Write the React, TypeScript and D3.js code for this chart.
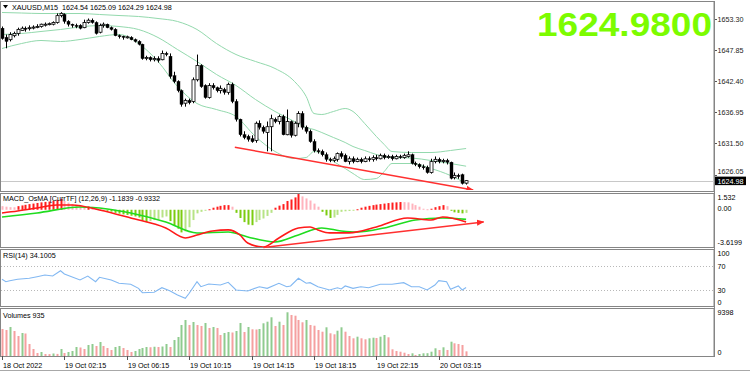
import * as d3 from 'd3'
import { useEffect, useRef } from 'react'

const W = 750
const H = 372

// XAUUSD M15, 120 bars: 18 Oct 22:15 .. 20 Oct 05:00
const barOpen = [
  1651.6, 1650.0, 1649.6, 1650.3, 1650.7, 1651.2, 1651.6, 1651.6, 1651.7, 1651.8,
  1651.9, 1652.2, 1652.3, 1652.3, 1652.6, 1653.8, 1654.0, 1652.8, 1652.3, 1652.1,
  1652.1, 1651.7, 1652.6, 1653.0, 1652.6, 1650.9, 1652.1, 1652.3, 1651.7, 1651.4,
  1650.3, 1650.2, 1650.0, 1650.0, 1649.6, 1649.3, 1648.8, 1646.3, 1646.5, 1646.1,
  1646.3, 1646.1, 1647.2, 1646.7, 1643.3, 1642.3, 1640.7, 1638.5, 1639.0, 1638.8,
  1642.6, 1645.1, 1641.6, 1639.5, 1641.6, 1641.2, 1640.7, 1640.9, 1640.4, 1641.8,
  1638.8, 1635.7, 1633.0, 1632.7, 1632.3, 1632.0, 1635.0, 1634.3, 1633.4, 1634.4,
  1635.7, 1635.3, 1636.2, 1633.0, 1635.3, 1632.9, 1635.0, 1636.7, 1634.3, 1633.6,
  1631.8, 1630.2, 1630.1, 1629.5, 1628.7, 1628.5, 1628.7, 1629.7, 1629.4, 1628.3,
  1628.8, 1628.3, 1628.7, 1628.3, 1628.8, 1628.7, 1629.0, 1628.8, 1629.4, 1629.0,
  1629.2, 1628.8, 1629.2, 1629.0, 1629.2, 1629.5, 1628.0, 1627.8, 1627.4, 1627.3,
  1626.4, 1628.3, 1628.7, 1628.3, 1628.5, 1628.2, 1625.5, 1625.9, 1626.0, 1624.54,
]
const barHigh = [
  1651.9, 1650.5, 1650.9, 1651.0, 1651.7, 1651.9, 1651.9, 1652.1, 1652.1, 1652.3,
  1652.4, 1652.6, 1652.6, 1652.8, 1654.2, 1654.4, 1654.2, 1653.0, 1652.4, 1652.4,
  1652.3, 1653.1, 1653.3, 1653.3, 1652.8, 1652.4, 1652.6, 1652.4, 1651.9, 1651.6,
  1650.5, 1650.3, 1650.3, 1650.2, 1649.8, 1649.5, 1648.9, 1646.8, 1646.7, 1646.7,
  1646.7, 1647.7, 1647.5, 1647.2, 1644.0, 1642.5, 1640.9, 1639.3, 1639.3, 1643.0,
  1647.0, 1645.3, 1641.8, 1642.0, 1642.0, 1641.4, 1641.6, 1641.2, 1642.1, 1642.1,
  1639.2, 1635.8, 1633.6, 1633.0, 1632.9, 1635.3, 1635.5, 1634.6, 1635.3, 1636.5,
  1636.0, 1636.5, 1636.5, 1637.4, 1635.5, 1635.3, 1637.1, 1637.1, 1634.6, 1633.9,
  1632.2, 1630.6, 1630.4, 1629.9, 1629.0, 1629.2, 1629.9, 1630.1, 1629.7, 1629.2,
  1629.2, 1629.0, 1629.0, 1629.2, 1629.2, 1629.4, 1629.5, 1629.7, 1629.7, 1629.5,
  1629.5, 1629.5, 1629.5, 1629.7, 1630.1, 1629.7, 1628.3, 1628.0, 1627.8, 1627.6,
  1628.8, 1629.2, 1629.0, 1628.8, 1628.8, 1628.3, 1626.4, 1626.2, 1626.2, 1625.09,
]
const barLow = [
  1649.6, 1648.1, 1649.3, 1650.0, 1650.3, 1651.2, 1651.0, 1651.2, 1651.4, 1651.6,
  1651.7, 1651.9, 1652.1, 1652.1, 1652.4, 1653.5, 1652.4, 1651.9, 1651.7, 1651.6,
  1651.4, 1651.6, 1652.4, 1652.4, 1650.5, 1650.7, 1651.7, 1651.6, 1651.2, 1650.2,
  1649.8, 1649.6, 1649.8, 1649.5, 1649.1, 1648.6, 1646.1, 1646.0, 1645.8, 1645.8,
  1645.6, 1646.0, 1646.7, 1642.8, 1642.0, 1640.4, 1637.9, 1637.9, 1638.3, 1638.5,
  1642.3, 1641.2, 1639.3, 1639.3, 1640.9, 1640.4, 1640.2, 1640.0, 1640.0, 1638.5,
  1635.3, 1632.7, 1632.2, 1631.8, 1631.6, 1631.6, 1633.9, 1633.2, 1630.1, 1630.1,
  1635.0, 1634.8, 1632.9, 1632.9, 1632.5, 1632.7, 1634.3, 1633.9, 1633.2, 1631.6,
  1629.9, 1629.7, 1629.2, 1628.3, 1628.2, 1628.2, 1628.3, 1628.8, 1628.2, 1627.8,
  1628.0, 1628.2, 1628.0, 1628.2, 1628.3, 1628.3, 1628.5, 1628.7, 1628.7, 1628.8,
  1628.5, 1628.7, 1628.8, 1628.8, 1629.0, 1627.8, 1627.5, 1627.1, 1626.9, 1626.2,
  1626.2, 1628.0, 1628.0, 1628.0, 1627.8, 1625.2, 1625.2, 1625.3, 1624.3, 1624.29,
]
const barClose = [
  1649.8, 1649.3, 1650.5, 1650.7, 1651.4, 1651.6, 1651.5, 1651.7, 1651.8, 1651.9,
  1652.3, 1652.3, 1652.4, 1652.6, 1653.8, 1654.2, 1652.8, 1652.3, 1652.1, 1651.9,
  1651.6, 1652.6, 1653.0, 1652.6, 1650.7, 1652.1, 1652.3, 1651.7, 1651.4, 1650.3,
  1650.2, 1650.0, 1650.1, 1649.6, 1649.3, 1648.8, 1646.3, 1646.5, 1646.1, 1646.3,
  1646.0, 1647.2, 1647.0, 1643.2, 1642.3, 1640.7, 1638.3, 1639.0, 1638.6, 1642.6,
  1645.1, 1641.4, 1639.5, 1641.6, 1641.2, 1640.7, 1641.1, 1640.4, 1641.8, 1638.8,
  1635.7, 1633.0, 1632.5, 1632.2, 1631.8, 1635.0, 1634.3, 1633.6, 1634.4, 1635.8,
  1635.3, 1636.2, 1633.0, 1635.3, 1632.9, 1635.0, 1636.7, 1634.3, 1633.6, 1631.8,
  1630.2, 1630.1, 1629.5, 1628.7, 1628.5, 1628.8, 1629.7, 1629.2, 1628.3, 1628.8,
  1628.3, 1628.7, 1628.3, 1628.8, 1628.7, 1629.0, 1628.8, 1629.4, 1629.0, 1629.2,
  1628.8, 1629.2, 1629.0, 1629.4, 1629.5, 1628.0, 1627.8, 1627.4, 1627.3, 1626.4,
  1628.3, 1628.7, 1628.3, 1628.5, 1628.2, 1625.4, 1625.9, 1625.7, 1624.5, 1624.98,
]

// bollinger bands, read at these bars
const bbIdx = [0, 5, 10, 15, 20, 25, 30, 35, 40, 45, 50, 55, 60, 65, 70, 75, 78, 80, 82, 85, 88, 90, 93, 96, 98, 100, 105, 110, 115, 119]
const bbUpper = [
  1654.35, 1654.26, 1654.17, 1654.17, 1654.17, 1654.0, 1653.82, 1653.65, 1653.3, 1652.78,
  1651.38, 1648.93, 1647.01, 1645.79, 1644.57, 1642.3, 1639.67, 1636.7, 1636.53, 1637.06,
  1637.58, 1637.06, 1634.96, 1632.69, 1631.29, 1630.07, 1629.89, 1629.89, 1630.24, 1630.59,
]
const bbMiddle = [
  1650.51, 1650.68, 1651.03, 1651.38, 1651.82, 1652.08, 1651.9, 1651.38, 1649.98, 1647.88,
  1645.79, 1643.52, 1641.6, 1639.15, 1637.06, 1635.31, 1634.26, 1633.91, 1633.38, 1632.51,
  1631.64, 1630.94, 1630.24, 1629.54, 1629.19, 1629.02, 1628.93, 1628.49, 1627.97, 1627.5,
]
const bbLower = [
  1648.06, 1648.93, 1649.46, 1649.28, 1649.63, 1650.16, 1650.51, 1648.93, 1645.79, 1641.42,
  1638.45, 1637.4, 1636.18, 1632.69, 1630.07, 1628.84, 1629.02, 1630.07, 1629.72, 1628.32,
  1627.1, 1626.22, 1625.17, 1625.35, 1626.57, 1627.97, 1627.97, 1627.1, 1625.87, 1624.48,
]

// MACD_OsMA histogram, one per bar
const osma = [
  0.35, 0.3, 0.25, 0.24, 0.35, 0.42, 0.48, 0.55, 0.6, 0.66,
  0.72, 0.76, 0.8, 0.85, 0.95, 1.05, 0.85, 0.7, 0.55, 0.45,
  0.32, 0.3, 0.32, 0.28, 0.1, 0.05, 0.02, -0.1, -0.18, -0.3,
  -0.38, -0.45, -0.5, -0.58, -0.65, -0.75, -1.05, -1.2, -1.1, -1.0,
  -0.95, -0.75, -0.65, -1.1, -1.5, -1.85, -2.2, -2.1, -1.7, -1.0,
  -0.35, -0.2, -0.1, 0.05, 0.2, 0.3, 0.38, 0.45, 0.45, 0.3,
  -0.3, -0.8, -1.2, -1.45, -1.5, -1.2, -1.0, -0.85, -0.6, -0.3,
  0.2, 0.4, 0.55, 0.85, 1.0, 1.2, 1.53, 1.3, 1.1, 0.9,
  0.6, 0.3, -0.2, -0.55, -0.8, -0.75, -0.5, -0.2, -0.15, -0.12,
  -0.08, 0.05, 0.2, 0.3, 0.38, 0.45, 0.5, 0.55, 0.6, 0.65,
  0.7, 0.72, 0.75, 0.74, 0.72, 0.6, 0.45, 0.3, 0.1, 0.05,
  0.1, 0.25, 0.35, 0.45, 0.35, -0.1, -0.25, -0.3, -0.35, -0.3,
]
const macdIdx = [0, 4, 9, 14, 18, 25, 33, 42, 47, 50, 54, 58, 61, 63, 67, 71, 76, 79, 81, 84, 89, 96, 104, 110, 113, 119]
const macdMain = [
  -0.31, -0.12, 0.17, 0.47, 0.47, -0.02, -0.8, -1.77, -2.74, -2.45, -2.06, -1.96, -2.45,
  -3.23, -3.62, -2.74, -1.77, -1.67, -1.96, -2.25, -2.25, -1.67, -0.8, -0.99, -0.7, -1.1839,
]
const signalIdx = [0, 9, 20, 27, 33, 42, 50, 58, 63, 70, 76, 82, 87, 91, 98, 106, 113, 119]
const macdSignal = [
  -0.7, -0.31, 0.27, 0.08, -0.31, -1.19, -2.26, -2.16, -2.64, -3.13, -2.45, -1.77, -2.06,
  -2.16, -1.77, -0.99, -0.8, -0.9332,
]

// RSI(14)
const rsiIdx = [
  0, 1, 2, 4, 7, 9, 11, 13, 15, 16, 20, 22, 24, 25, 28, 30, 33, 35, 36, 39, 41, 43, 45, 47, 48, 50, 51, 53, 56, 58,
  60, 63, 66, 68, 71, 73, 74, 76, 78, 79, 81, 84, 86, 87, 88, 90, 92, 94, 97, 100, 103, 105, 107, 109, 111, 112, 114,
  115, 117, 118, 119,
]
const rsiValues = [
  47.8, 43.8, 45.5, 47.8, 49.5, 52.2, 55, 53.3, 62, 56.7, 46.7, 53.3, 43.8, 51.2, 46.7, 41.2, 39.5, 32.8, 25.5, 26.2,
  33.8, 28.8, 21.7, 16.2, 24.5, 43.8, 35.5, 40, 38.3, 42.8, 30, 28.3, 35.5, 32.8, 41.2, 35.5, 36.7, 49.5, 41.2, 42.2,
  35.5, 30, 33.8, 31.7, 36.7, 32.8, 35.5, 33.8, 39.5, 39.5, 42.2, 35.5, 35.5, 30, 38.3, 45.5, 43.8, 31.2, 36.7, 30,
  34.1005,
]

// tick volumes
const volumes = [
  5400, 5200, 5800, 5000, 4000, 4600, 4500, 2400, 1400, 600,
  800, 400, 380, 500, 420, 1400, 600, 800, 1000, 1800,
  1700, 1400, 2200, 2400, 2000, 2800, 2000, 1600, 1200, 1800,
  2000, 1600, 1200, 800, 1000, 1400, 1600, 1800, 1750, 1850,
  1800, 1900, 2400, 1800, 3200, 3800, 6200, 7200, 6200, 6800,
  6200, 6000, 6600, 5600, 5800, 5600, 4200, 4600, 4800, 4700,
  5000, 6600, 4800, 5800, 5340, 5300, 5400, 6540, 6860, 7740,
  6000, 6860, 6200, 8740, 8200, 8060, 7200, 6740, 7200, 6200,
  6060, 5200, 4860, 5740, 4540, 4340, 5060, 5740, 4860, 4000,
  3540, 3860, 3540, 3340, 3540, 3660, 3600, 3860, 4200, 3740,
  1340, 1000, 860, 660, 400, 540, 200, 400, 540, 560,
  860, 1540, 1200, 1740, 1200, 2860, 2540, 2400, 2200, 935,
]

const priceTicks = [1653.3, 1647.85, 1642.4, 1636.95, 1631.5, 1626.05]
const timeTicks: [number, string][] = [
  [0, '18 Oct 2022'],
  [16, '19 Oct 02:15'],
  [32, '19 Oct 06:15'],
  [48, '19 Oct 10:15'],
  [64, '19 Oct 14:15'],
  [80, '19 Oct 18:15'],
  [96, '19 Oct 22:15'],
  [112, '20 Oct 03:15'],
]
const lastPrice = 1624.98

// hand drawn trend lines [bar, value] -> [bar, value]
const priceTrend = [[59.7, 1630.8], [120.8, 1623.34]]
const macdTrend = [[67, -3.66], [123.5, -1.18]]

const App = () => {
  const svgRef = useRef<SVGSVGElement>(null)

  useEffect(() => {
    const svg = d3.select(svgRef.current)
    svg.selectAll('*').remove()
    const font = "'Liberation Sans', Arial, sans-serif"
    const fs = 7.2
    const right = 714

    const x = d3.scaleLinear().domain([0, 119]).range([2, 466.1])
    const yPrice = d3.scaleLinear().domain([1626.05, 1653.3]).range([174.5, 18.5])
    const yMacd = d3.scaleLinear().domain([-3.6199, 1.532]).range([247, 194])
    const yRsi = d3.scaleLinear().domain([0, 100]).range([308, 248])
    const yVol = d3.scaleLinear().domain([0, 9398]).range([356, 309])

    svg.append('rect').attr('width', W).attr('height', H).attr('fill', '#fff')

    const defs = svg.append('defs')
    const clips = [
      ['clipMain', 2, 190],
      ['clipMacd', 194, 247],
      ['clipRsi', 250, 306],
      ['clipVol', 309, 356],
    ] as const
    clips.forEach(([id, t, b]) => {
      defs.append('clipPath').attr('id', id).append('rect').attr('x', 1).attr('y', t).attr('width', right - 1).attr('height', b - t)
    })
    defs
      .append('marker')
      .attr('id', 'arrow')
      .attr('viewBox', '0 0 10 10')
      .attr('refX', 9)
      .attr('refY', 5)
      .attr('markerWidth', 5)
      .attr('markerHeight', 5)
      .attr('orient', 'auto')
      .append('path')
      .attr('d', 'M0,1 L10,5 L0,9 Z')
      .attr('fill', '#ff2a2a')

    // frames
    const frames = [
      [1.5, 191.5],
      [193.5, 247.5],
      [249.5, 306.5],
      [308.5, 356.5],
    ]
    frames.forEach(([t, b]) => {
      svg
        .append('rect')
        .attr('x', 0.5)
        .attr('y', t)
        .attr('width', right - 0.5)
        .attr('height', b - t)
        .attr('fill', 'none')
        .attr('stroke', '#858585')
    })

    // ---- main panel
    const main = svg.append('g').attr('clip-path', 'url(#clipMain)')

    // bid line
    main
      .append('line')
      .attr('x1', 1)
      .attr('x2', right)
      .attr('y1', Math.round(yPrice(lastPrice)) + 0.5)
      .attr('y2', Math.round(yPrice(lastPrice)) + 0.5)
      .attr('stroke', '#c8c8c8')

    const bandLine = (vals: number[]) =>
      d3
        .line<number>()
        .x((_, k) => x(bbIdx[k]))
        .y((d) => yPrice(d))
        .curve(d3.curveMonotoneX)(vals)
    ;[bbUpper, bbMiddle, bbLower].forEach((vals) => {
      main.append('path').attr('d', bandLine(vals)).attr('fill', 'none').attr('stroke', '#93d9ad').attr('stroke-width', 1)
    })

    // candles
    barOpen.forEach((o, i) => {
      const cx = Math.round(x(i)) + 0.5
      const c = barClose[i]
      main
        .append('line')
        .attr('x1', cx)
        .attr('x2', cx)
        .attr('y1', yPrice(barHigh[i]))
        .attr('y2', yPrice(barLow[i]))
        .attr('stroke', '#000')
      const top = yPrice(Math.max(o, c))
      const h = Math.max(1, yPrice(Math.min(o, c)) - top)
      const up = c >= o
      main
        .append('rect')
        .attr('x', cx - 1.5)
        .attr('y', top)
        .attr('width', 3)
        .attr('height', h)
        .attr('fill', up ? '#fff' : '#000')
        .attr('stroke', '#000')
        .attr('stroke-width', up ? 0.8 : 0.4)
    })

    main
      .append('line')
      .attr('x1', x(priceTrend[0][0]))
      .attr('y1', yPrice(priceTrend[0][1]))
      .attr('x2', x(priceTrend[1][0]))
      .attr('y2', yPrice(priceTrend[1][1]))
      .attr('stroke', '#ff3030')
      .attr('stroke-width', 1.5)
      .attr('marker-end', 'url(#arrow)')

    // header
    svg.append('path').attr('d', 'M3,5 L8,5 L5.5,8.5 Z').attr('fill', '#000')
    svg
      .append('text')
      .attr('x', 12)
      .attr('y', 9.5)
      .attr('font-family', font)
      .attr('font-size', fs)
      .attr('fill', '#000')
      .attr('xml:space', 'preserve')
      .text('XAUUSD,M15  1624.54 1625.09 1624.29 1624.98')

    svg
      .append('text')
      .attr('x', 537)
      .attr('y', 36)
      .attr('font-family', font)
      .attr('font-weight', 'bold')
      .attr('font-size', 32.5)
      .attr('fill', '#7cfc00')
      .attr('textLength', 175)
      .attr('lengthAdjust', 'spacingAndGlyphs')
      .text('1624.9800')

    // price axis
    const ly = yPrice(lastPrice)
    priceTicks.forEach((p) => {
      const yy = Math.round(yPrice(p)) + 0.5
      svg.append('line').attr('x1', right).attr('x2', right + 3).attr('y1', yy).attr('y2', yy).attr('stroke', '#555')
      svg
        .append('text')
        .attr('x', right + 3.5)
        .attr('y', Math.min(yy + 2.5, ly - 6.2))
        .attr('font-family', font)
        .attr('font-size', fs)
        .attr('fill', '#222')
        .text(p.toFixed(2))
    })
    svg.append('rect').attr('x', right + 1).attr('y', ly - 4).attr('width', 31).attr('height', 8.5).attr('fill', '#000')
    svg
      .append('text')
      .attr('x', right + 3.5)
      .attr('y', ly + 3)
      .attr('font-family', font)
      .attr('font-size', fs)
      .attr('fill', '#fff')
      .text(lastPrice.toFixed(2))

    // ---- MACD panel
    const macd = svg.append('g').attr('clip-path', 'url(#clipMacd)')
    const y0 = yMacd(0)
    osma.forEach((v, i) => {
      const prev = i > 0 ? osma[i - 1] : v + 0.01
      let color
      if (v >= 0) color = v >= prev ? '#ff1e1e' : '#ffb3bd'
      else color = v <= prev ? '#7ccc10' : '#b7e386'
      const yy = yMacd(v)
      macd
        .append('rect')
        .attr('x', Math.round(x(i)) - 0.5)
        .attr('y', Math.min(yy, y0))
        .attr('width', 2)
        .attr('height', Math.max(1, Math.abs(yy - y0)))
        .attr('fill', color)
    })
    const macdLine = (idx: number[], vals: number[]) =>
      d3
        .line<number>()
        .x((_, k) => x(idx[k]))
        .y((d) => yMacd(d))
        .curve(d3.curveMonotoneX)(vals)
    macd.append('path').attr('d', macdLine(signalIdx, macdSignal)).attr('fill', 'none').attr('stroke', '#1fdc1f').attr('stroke-width', 1.6)
    macd.append('path').attr('d', macdLine(macdIdx, macdMain)).attr('fill', 'none').attr('stroke', '#ff1a1a').attr('stroke-width', 1.6)
    svg
      .append('line')
      .attr('x1', x(macdTrend[0][0]))
      .attr('y1', yMacd(macdTrend[0][1]))
      .attr('x2', x(macdTrend[1][0]))
      .attr('y2', yMacd(macdTrend[1][1]))
      .attr('stroke', '#ff3030')
      .attr('stroke-width', 1.5)
      .attr('marker-end', 'url(#arrow)')

    const label = (t: string, xx: number, yy: number, color = '#000') =>
      svg
        .append('text')
        .attr('x', xx)
        .attr('y', yy)
        .attr('font-family', font)
        .attr('font-size', fs)
        .attr('fill', color)
        .text(t)

    label('MACD_OsMA [CurrTF] (12,26,9) -1.1839 -0.9332', 3, 201)
    label('1.532', right + 3.5, 200)
    label('0.00', right + 3.5, 210.5)
    label('-3.6199', right + 3.5, 245)

    // ---- RSI panel
    const rsi = svg.append('g').attr('clip-path', 'url(#clipRsi)')
    ;[70, 30].forEach((v) => {
      rsi
        .append('line')
        .attr('x1', 1)
        .attr('x2', right)
        .attr('y1', Math.round(yRsi(v)) + 0.5)
        .attr('y2', Math.round(yRsi(v)) + 0.5)
        .attr('stroke', '#b8b8b8')
        .attr('stroke-dasharray', '1,2')
    })
    rsi
      .append('path')
      .attr(
        'd',
        d3
          .line<number>()
          .x((_, k) => x(rsiIdx[k]))
          .y((d) => yRsi(d))(rsiValues),
      )
      .attr('fill', 'none')
      .attr('stroke', '#82b8f2')
      .attr('stroke-width', 1.1)
    label('RSI(14) 34.1005', 3, 257.5)
    label('100', right + 3.5, 256)
    label('70', right + 3.5, yRsi(70) + 2.5)
    label('30', right + 3.5, yRsi(30) + 2.5)
    label('0', right + 3.5, 305)

    // ---- Volumes panel
    const vol = svg.append('g').attr('clip-path', 'url(#clipVol)')
    volumes.forEach((v, i) => {
      const up = i > 0 && v > volumes[i - 1]
      vol
        .append('rect')
        .attr('x', Math.round(x(i)) - 0.5)
        .attr('y', yVol(v))
        .attr('width', 2)
        .attr('height', yVol(0) - yVol(v))
        .attr('fill', up ? '#8fcb8f' : '#f5a0a0')
    })
    label('Volumes 935', 3, 317.5)
    label('9398', right + 3.5, 315)
    label('0', right + 3.5, 355)

    // time axis
    timeTicks.forEach(([i, t]) => {
      const xx = Math.round(x(i)) + 0.5
      svg.append('line').attr('x1', xx).attr('x2', xx).attr('y1', 356).attr('y2', 360).attr('stroke', '#555')
      label(t, xx + 0.5, 367.5)
    })

    svg.append('line').attr('x1', right + 0.5).attr('x2', right + 0.5).attr('y1', 1).attr('y2', 357).attr('stroke', '#858585')
    svg.append('line').attr('x1', 0).attr('x2', W).attr('y1', 370.5).attr('y2', 370.5).attr('stroke', '#a8a8a8')
  }, [])

  return <svg ref={svgRef} width={W} height={H} style={{ position: 'absolute', left: 0, top: 0 }} />
}

export default App
